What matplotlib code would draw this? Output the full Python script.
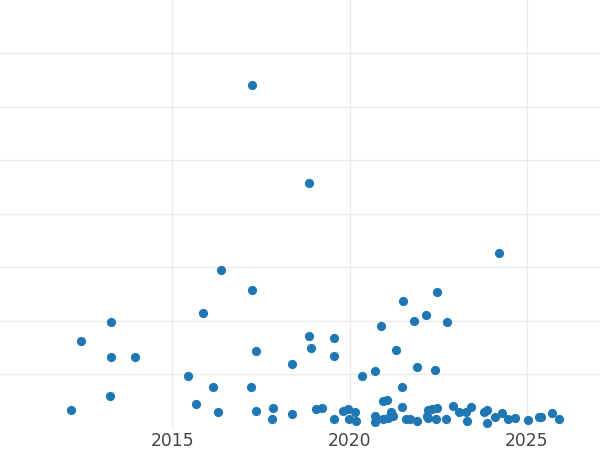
import matplotlib
matplotlib.use("Agg")
import matplotlib.pyplot as plt

# release year vs value (y units arbitrary)
years = [2012.13, 2012.42, 2013.24, 2013.27, 2013.27, 2013.94, 2015.43, 2015.68,
         2015.87, 2016.14, 2016.28, 2016.37, 2017.21, 2017.26, 2017.26, 2017.36,
         2017.36, 2017.84, 2017.81, 2018.37, 2018.38, 2018.85, 2018.87, 2018.91,
         2019.05, 2019.23, 2019.55, 2019.55, 2019.55, 2019.82, 2019.97, 2020.16,
         2019.99, 2020.18, 2020.36, 2020.71, 2020.73, 2020.73, 2020.89, 2020.94,
         2021.07, 2020.95, 2021.16, 2021.22, 2021.09, 2021.31, 2021.50, 2021.48,
         2021.49, 2021.59, 2021.71, 2021.83, 2021.90, 2021.90, 2022.17, 2022.22,
         2022.20, 2022.21, 2022.40, 2022.46, 2022.46, 2022.44, 2022.72, 2022.75,
         2022.93, 2023.08, 2023.30, 2023.32, 2023.43, 2023.79, 2023.88, 2023.89,
         2024.11, 2024.23, 2024.29, 2024.46, 2024.66, 2025.05, 2025.35, 2025.40,
         2025.71, 2025.91, 2022.34]
values = [3.27, 16.17, 5.94, 19.72, 13.12, 13.12, 9.63, 4.39,
          21.40, 7.57, 2.84, 29.38, 7.57, 25.64, 63.96, 14.30,
          3.08, 3.59, 1.68, 2.47, 11.87, 45.64, 17.05, 14.80,
          3.40, 3.70, 16.79, 13.42, 1.50, 3.08, 3.46, 2.90,
          1.50, 1.31, 9.57, 10.56, 2.24, 1.12, 19.03, 4.95,
          5.20, 1.50, 2.99, 2.24, 1.83, 14.49, 23.70, 7.51,
          3.89, 1.50, 1.59, 19.91, 11.36, 1.21, 21.03, 3.36,
          2.21, 1.72, 10.75, 25.33, 3.70, 1.53, 1.64, 19.72,
          4.07, 2.99, 2.95, 1.31, 3.78, 2.90, 3.27, 0.93,
          1.96, 32.62, 2.71, 1.50, 1.72, 1.40, 1.91, 1.96,
          2.62, 1.53, 3.55]

x_ticks = [2015, 2020, 2025]
y_grid = [10, 20, 30, 40, 50, 60, 70]

fig = plt.figure(figsize=(6, 4.5), dpi=100)
ax = fig.add_axes([0, 0.0489, 1, 0.9511])

ax.scatter(years, values, s=44, color="#1f77b4", linewidths=0, zorder=3, clip_on=False)

ax.set_xlim(2010.138, 2027.068)
ax.set_ylim(-0.09, 79.91)
ax.set_xticks(x_ticks)
ax.set_xticklabels([str(t) for t in x_ticks])
ax.set_yticks(y_grid)
ax.set_yticklabels([])
ax.grid(True, color="#ebebeb", linewidth=1.0, zorder=0)
ax.set_axisbelow(True)
ax.tick_params(axis="both", length=0)
ax.tick_params(axis="x", labelsize=12.3, labelcolor="#444444", pad=2.8)
for s in ax.spines.values():
    s.set_visible(False)

fig.savefig("out.png", dpi=100)
